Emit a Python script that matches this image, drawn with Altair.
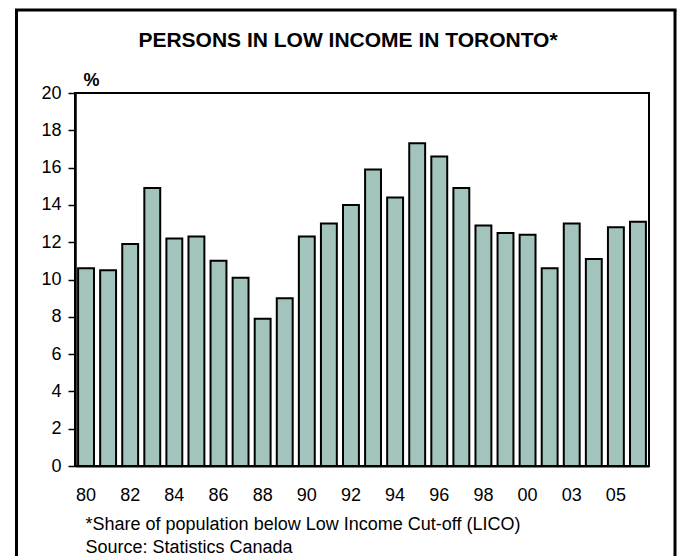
import altair as alt
import pandas as pd

# Share of persons in low income, Toronto (%)
years = ["80", "81", "82", "83", "84", "85", "86", "87", "88", "89",
         "90", "91", "92", "93", "94", "95", "96", "97", "98", "99",
         "00", "02", "03", "04", "05", "06"]
shares = [10.6, 10.5, 11.9, 14.9, 12.2, 12.3, 11.0, 10.1, 7.9, 9.0,
          12.3, 13.0, 14.0, 15.9, 14.4, 17.3, 16.6, 14.9, 12.9, 12.5,
          12.4, 10.6, 13.0, 11.1, 12.8, 13.1]
shown_years = ["80", "82", "84", "86", "88", "90", "92", "94", "96", "98",
               "00", "03", "05"]
y_ticks = [0, 2, 4, 6, 8, 10, 12, 14, 16, 18, 20]
chart_title = "PERSONS IN LOW INCOME IN TORONTO*"
notes = ["*Share of population below Low Income Cut-off (LICO)",
         "Source: Statistics Canada"]

df = pd.DataFrame({"year": years, "share": shares})

FONT = "Liberation Sans"

bars = alt.Chart(df).mark_bar(
    fill="#a3c4bc", stroke="black", strokeWidth=2
).encode(
    x=alt.X(
        "year:O",
        sort=years,
        scale=alt.Scale(paddingInner=0.28, paddingOuter=0.14),
        axis=alt.Axis(
            values=shown_years, labelAngle=0, ticks=False,
            labelPadding=20, labelFontSize=18, labelColor="black",
            domainColor="black", domainWidth=2,
            title=notes, titleAnchor="start", titleAlign="left",
            titleBaseline="alphabetic", titleX=10, titleY=63,
            titleFontSize=18, titleFontWeight="normal",
            titleLineHeight=23, titleColor="black",
        ),
    ),
    y=alt.Y(
        "share:Q",
        scale=alt.Scale(domain=[0, 20], nice=False),
        axis=alt.Axis(
            values=y_ticks, grid=False, tickSize=7, tickWidth=1.5,
            tickColor="black", labelPadding=7, labelFontSize=18,
            labelColor="black", domainColor="black", domainWidth=2.5,
            title="%", titleAngle=0, titleAlign="left",
            titleBaseline="alphabetic", titleX=8, titleY=-8,
            titleFontSize=18, titleFontWeight="bold", titleColor="black",
        ),
    ),
)

one_row = pd.DataFrame({"text": [chart_title]})

# heading above the plot
heading = alt.Chart(one_row).mark_text(
    fontSize=21, fontWeight="bold", font=FONT, color="black",
    align="center", baseline="alphabetic"
).encode(
    x=alt.value(273), y=alt.value(-46.3), text="text:N"
)

# outer frame around the figure
frame_left = alt.Chart(one_row).mark_rule(color="black", strokeWidth=3).encode(
    x=alt.value(-58.5), y=alt.value(-83), y2=alt.value(480)
)
frame_right = alt.Chart(one_row).mark_rule(color="black", strokeWidth=3).encode(
    x=alt.value(600), y=alt.value(-83), y2=alt.value(480)
)
frame_top = alt.Chart(one_row).mark_rule(color="black", strokeWidth=3).encode(
    x=alt.value(-60), x2=alt.value(601.5), y=alt.value(-83)
)

chart = alt.layer(bars, heading, frame_left, frame_right, frame_top).properties(
    width=574,
    height=373,
    padding={"left": 75, "top": 93, "right": 30, "bottom": 90},
    autosize=alt.AutoSizeParams(type="none"),
).configure(
    font=FONT, background="white"
).configure_view(
    stroke="black", strokeWidth=2
)

chart.save("out.html", embed_options={"renderer": "svg", "actions": False})
